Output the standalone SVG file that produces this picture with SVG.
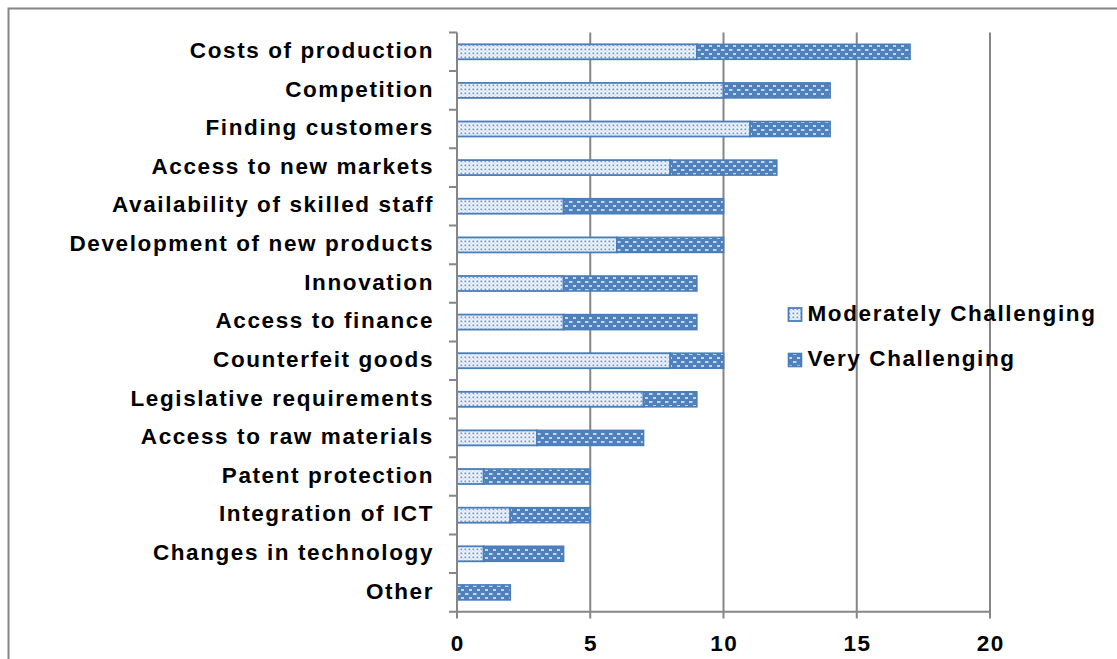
<svg xmlns="http://www.w3.org/2000/svg" width="1117" height="659" viewBox="0 0 1117 659">
<style>
.lbl{font-family:"Liberation Sans",Arial,sans-serif;font-weight:bold;font-size:22.5px;letter-spacing:1.6px;fill:#000}
.cat{text-anchor:end}
.num{text-anchor:middle}
.grid{stroke:#868686;stroke-width:2;fill:none}
.mod{fill:url(#pMod);stroke:#4a7ebb;stroke-width:1.8}
.very{fill:url(#pVery);stroke:#4a7ebb;stroke-width:1.6}
</style>
<defs>
<pattern id="pMod" patternUnits="userSpaceOnUse" width="4" height="4">
<rect width="4" height="4" fill="#eef3fa"/>
<rect x="0.5" y="0.5" width="1.7" height="1.7" fill="#6f95c9"/>
<rect x="2.5" y="2.5" width="1" height="1" fill="#a9c0e0"/>
</pattern>
<pattern id="pVery" patternUnits="userSpaceOnUse" width="8" height="8">
<rect width="8" height="8" fill="#4f81bd"/>
<rect x="1" y="1.2" width="3.5" height="1.6" fill="#e3ebf6"/>
<rect x="5" y="5.2" width="3.5" height="1.6" fill="#e3ebf6"/>
</pattern>
</defs>
<rect width="1117" height="659" fill="#fff"/>
<rect x="8.5" y="8.5" width="1130" height="680" fill="none" stroke="#868686" stroke-width="2"/>

<g id="gridlines" class="grid">
<line x1="590.25" y1="32.5" x2="590.25" y2="618.5"/>
<line x1="723.5" y1="32.5" x2="723.5" y2="618.5"/>
<line x1="856.75" y1="32.5" x2="856.75" y2="618.5"/>
<line x1="990" y1="32.5" x2="990" y2="618.5"/>
</g>

<g id="bars">
<g id="row-costs"><rect class="mod" x="457" y="44.3" width="239.85" height="15"/><rect class="very" x="696.85" y="44.3" width="213.2" height="15"/></g>
<g id="row-competition"><rect class="mod" x="457" y="82.9" width="266.5" height="15"/><rect class="very" x="723.5" y="82.9" width="106.6" height="15"/></g>
<g id="row-customers"><rect class="mod" x="457" y="121.5" width="293.15" height="15"/><rect class="very" x="750.15" y="121.5" width="79.95" height="15"/></g>
<g id="row-newmarkets"><rect class="mod" x="457" y="160.1" width="213.2" height="15"/><rect class="very" x="670.2" y="160.1" width="106.6" height="15"/></g>
<g id="row-skilled"><rect class="mod" x="457" y="198.7" width="106.6" height="15"/><rect class="very" x="563.6" y="198.7" width="159.9" height="15"/></g>
<g id="row-development"><rect class="mod" x="457" y="237.4" width="159.9" height="15"/><rect class="very" x="616.9" y="237.4" width="106.6" height="15"/></g>
<g id="row-innovation"><rect class="mod" x="457" y="276" width="106.6" height="15"/><rect class="very" x="563.6" y="276" width="133.25" height="15"/></g>
<g id="row-finance"><rect class="mod" x="457" y="314.6" width="106.6" height="15"/><rect class="very" x="563.6" y="314.6" width="133.25" height="15"/></g>
<g id="row-counterfeit"><rect class="mod" x="457" y="353.2" width="213.2" height="15"/><rect class="very" x="670.2" y="353.2" width="53.3" height="15"/></g>
<g id="row-legislative"><rect class="mod" x="457" y="391.8" width="186.55" height="15"/><rect class="very" x="643.55" y="391.8" width="53.3" height="15"/></g>
<g id="row-raw"><rect class="mod" x="457" y="430.4" width="79.95" height="15"/><rect class="very" x="536.95" y="430.4" width="106.6" height="15"/></g>
<g id="row-patent"><rect class="mod" x="457" y="469" width="26.65" height="15"/><rect class="very" x="483.65" y="469" width="106.6" height="15"/></g>
<g id="row-ict"><rect class="mod" x="457" y="507.7" width="53.3" height="15"/><rect class="very" x="510.3" y="507.7" width="79.95" height="15"/></g>
<g id="row-technology"><rect class="mod" x="457" y="546.3" width="26.65" height="15"/><rect class="very" x="483.65" y="546.3" width="79.95" height="15"/></g>
<g id="row-other"><rect class="very" x="457" y="584.9" width="53.3" height="15"/></g>
</g>

<g id="axes" class="grid">
<line x1="457" y1="32.5" x2="457" y2="618.5"/>
<line x1="449" y1="611.7" x2="990" y2="611.7"/>
<path d="M449 32.5H457M449 71.1H457M449 109.7H457M449 148.3H457M449 186.9H457M449 225.6H457M449 264.2H457M449 302.8H457M449 341.4H457M449 380H457M449 418.6H457M449 457.2H457M449 495.8H457M449 534.4H457M449 573H457"/>
</g>

<g id="category-labels" class="lbl cat">
<text x="434" y="58">Costs of production</text>
<text x="434" y="96.6">Competition</text>
<text x="434" y="135.2">Finding customers</text>
<text x="434" y="173.8">Access to new markets</text>
<text x="434" y="212.4">Availability of skilled staff</text>
<text x="434" y="251.1">Development of new products</text>
<text x="434" y="289.7">Innovation</text>
<text x="434" y="328.3">Access to finance</text>
<text x="434" y="366.9">Counterfeit goods</text>
<text x="434" y="405.5">Legislative requirements</text>
<text x="434" y="444.1">Access to raw materials</text>
<text x="434" y="482.7">Patent protection</text>
<text x="434" y="521.4">Integration of ICT</text>
<text x="434" y="560">Changes in technology</text>
<text x="434" y="598.6">Other</text>
</g>

<g id="axis-labels" class="lbl num">
<text x="457.8" y="651">0</text>
<text x="591" y="651">5</text>
<text x="724.3" y="651">10</text>
<text x="857.5" y="651">15</text>
<text x="990.8" y="651">20</text>
</g>

<g id="legend">
<g id="legend-moderate"><rect class="mod" x="788.5" y="308" width="13" height="13"/><text class="lbl" x="807.5" y="321">Moderately Challenging</text></g>
<g id="legend-very"><rect class="very" x="788.5" y="353.5" width="13" height="13"/><text class="lbl" x="807.5" y="366">Very Challenging</text></g>
</g>
</svg>
